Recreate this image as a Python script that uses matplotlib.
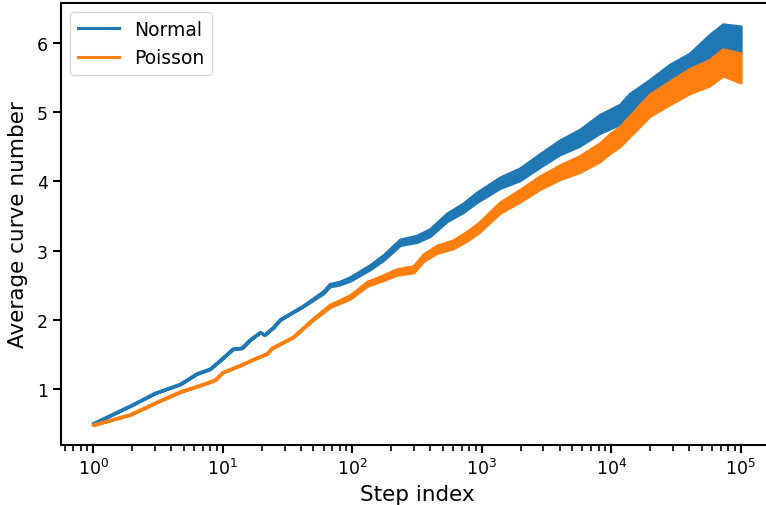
import numpy as np
import matplotlib
matplotlib.use("Agg")
import matplotlib.pyplot as plt

# 数据：中心线 + 抖动半宽
normal_steps = [1, 2, 3, 4.7, 6.3, 8, 9.5, 12, 14, 16, 19.5, 21, 24.6, 27.7, 42, 60, 67, 80,
                96, 137, 174, 234, 315, 398, 537, 720, 915, 1380, 1960, 2800, 3990, 5700,
                8150, 11700, 13900, 19800, 28300, 40300, 57400, 73000, 100000]
normal_vals = [0.50, 0.77, 0.94, 1.07, 1.22, 1.29, 1.41, 1.58, 1.59, 1.70, 1.82, 1.78, 1.89,
               2.00, 2.20, 2.40, 2.50, 2.53, 2.59, 2.76, 2.90, 3.12, 3.17, 3.26, 3.48, 3.62,
               3.77, 3.98, 4.10, 4.30, 4.49, 4.63, 4.83, 4.97, 5.12, 5.31, 5.52, 5.67, 5.93,
               6.08, 6.05]
normal_spread = [0, 0, 0, 0, 0, 0, 0, 0, 0, 0, 0, 0, 0, 0, 0.005, 0.015, 0.018, 0.02,
                 0.025, 0.03, 0.035, 0.04, 0.045, 0.05, 0.055, 0.062, 0.068, 0.075, 0.085,
                 0.092, 0.10, 0.115, 0.13, 0.14, 0.145, 0.155, 0.165, 0.175, 0.185, 0.19, 0.19]

poisson_steps = [1, 1.93, 3.1, 4.7, 7.1, 8.7, 10, 13.6, 17.3, 21.9, 24, 27.7, 35, 50, 67, 96,
                 130, 174, 220, 297, 355, 450, 600, 770, 945, 1380, 1960, 2800, 3990, 5700,
                 8150, 9800, 11700, 13900, 19800, 28300, 40300, 57400, 73000, 100000]
poisson_vals = [0.48, 0.63, 0.81, 0.96, 1.07, 1.13, 1.24, 1.34, 1.43, 1.51, 1.59, 1.65, 1.75,
                2.01, 2.20, 2.33, 2.52, 2.61, 2.69, 2.73, 2.90, 3.02, 3.09, 3.21, 3.33, 3.62,
                3.79, 3.98, 4.13, 4.25, 4.42, 4.55, 4.65, 4.80, 5.10, 5.28, 5.45, 5.57, 5.72,
                5.64]
poisson_spread = [0, 0, 0, 0, 0, 0, 0, 0, 0, 0, 0, 0, 0, 0.01, 0.018, 0.025, 0.03, 0.035,
                  0.04, 0.045, 0.048, 0.052, 0.058, 0.064, 0.068, 0.075, 0.085, 0.092, 0.10,
                  0.115, 0.13, 0.135, 0.14, 0.145, 0.155, 0.165, 0.175, 0.185, 0.19, 0.21]

BLUE = '#1f77b4'
ORANGE = '#ff7f0e'

plt.rcParams['font.family'] = ['DejaVu Sans']
plt.rcParams['axes.linewidth'] = 1.5

fig = plt.figure(figsize=(7.66, 5.06), dpi=100)
ax = fig.add_axes([61 / 766, 60 / 506, 712 / 766, 442 / 506])

series = [
    ('Normal', normal_steps, normal_vals, normal_spread, BLUE, 2),
    ('Poisson', poisson_steps, poisson_vals, poisson_spread, ORANGE, 3),
]
for name, steps, vals, spread, color, z in series:
    vals = np.array(vals)
    spread = np.array(spread)
    # 噪声带（大步数处曲线抖动）
    ax.fill_between(steps, vals - spread, vals + spread, color=color, linewidth=2.2,
                    edgecolor=color, zorder=z)
    ax.plot(steps, vals, color=color, linewidth=2.2, label=name, zorder=z)

ax.set_xscale('log')
ax.set_xlim(10 ** -0.25, 10 ** 5.25)
ax.set_ylim(0.191, 6.578)
ax.set_yticks([1, 2, 3, 4, 5, 6])

ax.tick_params(axis='both', which='major', length=6, width=1.5, labelsize=12.5)
ax.tick_params(axis='both', which='minor', length=4.3, width=1.2)

ax.set_xlabel('Step index', fontsize=15.5, labelpad=4)
ax.set_ylabel('Average curve number', fontsize=15.5, labelpad=6)

ax.legend(loc='upper left', fontsize=13.5, framealpha=0.8, handlelength=2.2)

plt.savefig('out.png', dpi=100, facecolor='white')
plt.close()
